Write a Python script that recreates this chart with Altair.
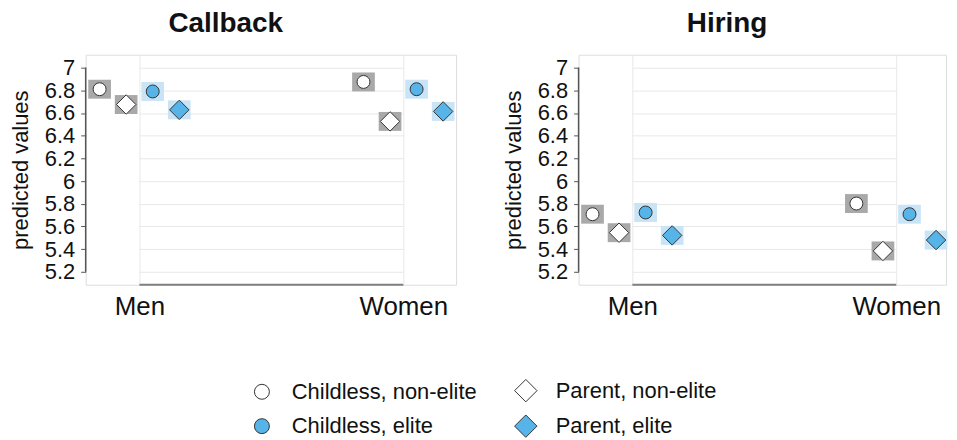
import altair as alt
import pandas as pd

# ---- data ----
panels = ["Callback", "Hiring"]
genders = ["Men", "Women"]
series = ["Childless, non-elite", "Parent, non-elite", "Childless, elite", "Parent, elite"]
legend_order = ["Childless, non-elite", "Childless, elite", "Parent, non-elite", "Parent, elite"]
elite_status = ["non-elite", "non-elite", "elite", "elite"]

callback_men = [6.81, 6.675, 6.79, 6.628]
callback_women = [6.874, 6.526, 6.81, 6.614]
hiring_men = [5.708, 5.545, 5.723, 5.521]
hiring_women = [5.802, 5.384, 5.708, 5.48]

y_ticks = [5.2, 5.4, 5.6, 5.8, 6, 6.2, 6.4, 6.6, 6.8, 7]

values = {
    "Callback": {"Men": callback_men, "Women": callback_women},
    "Hiring": {"Men": hiring_men, "Women": hiring_women},
}

# ---- styles ----
FONT = "Liberation Sans"
RECT = "M-1.2,-1L1.2,-1L1.2,1L-1.2,1Z"
DIAMOND = "M0,-1.5L1.5,0L0,1.5L-1.5,0Z"
BLUE = "#56b4e9"
H = 231
shape_of = {"Childless": "circle", "Parent": DIAMOND}
fill_of = {"non-elite": "white", "elite": BLUE}


def panel(name, width, title_dx):
    rows = []
    for g in genders:
        for s, e, v in zip(series, elite_status, values[name][g]):
            rows.append({"gender": g, "series": s, "elite": e, "value": v})
    df = pd.DataFrame(rows)

    x = alt.X(
        "gender:N",
        scale=alt.Scale(type="point", domain=genders, range=[54, 319], padding=0),
        axis=alt.Axis(title=None, labelAngle=0, labelAlign="center", labelFontSize=26,
                      labelPadding=9, ticks=False, domain=False, grid=True,
                      gridColor="#e8e8e8", labelColor="#111111", labelFont=FONT),
    )
    xo = alt.XOffset("series:N", scale=alt.Scale(type="point", domain=series,
                                                  range=[-40, 40], padding=0))
    y_scale = alt.Scale(domain=[5.086, 7.114], nice=False, zero=False)
    y_axis = alt.Axis(values=y_ticks, format="~g", title="predicted values",
                      titleFontSize=22, titleFontWeight="normal", titleColor="#111111",
                      titlePadding=12, labelFontSize=22, labelPadding=6, labelColor="#111111",
                      labelOverlap=False, tickSize=5, tickColor="#555555", domain=False,
                      grid=True, gridColor="#e8e8e8", labelFont=FONT, titleFont=FONT)
    y = alt.Y("value:Q", scale=y_scale, axis=y_axis)

    boxes = alt.Chart(df).mark_point(shape=RECT, size=361, filled=True, opacity=1,
                                     strokeWidth=0).encode(
        x=x, xOffset=xo, y=y,
        color=alt.Color("elite:N", scale=alt.Scale(domain=["non-elite", "elite"],
                                                   range=["#a9a9a9", "#c8e4f6"]),
                        legend=None),
    )

    legend = alt.Legend(title=None, orient="none", legendX=166, legendY=326, columns=2,
                        labelFontSize=22, labelFont=FONT, labelColor="#111111",
                        labelLimit=0, symbolSize=225, symbolStrokeWidth=1,
                        columnPadding=35, rowPadding=8, labelOffset=19)

    shape_range = [shape_of[s.split(",")[0]] for s in legend_order]
    fill_range = [fill_of[s.split(", ")[1]] for s in legend_order]

    markers = alt.Chart(df).mark_point(filled=True, size=169, opacity=1,
                                       strokeWidth=1).encode(
        x=x, xOffset=xo, y=y,
        shape=alt.Shape("series:N", scale=alt.Scale(domain=legend_order, range=shape_range),
                        legend=legend),
        fill=alt.Fill("series:N", scale=alt.Scale(domain=legend_order, range=fill_range),
                      legend=legend),
        stroke=alt.Stroke("series:N", scale=alt.Scale(domain=legend_order,
                                                      range=["#333333"] * 4),
                          legend=legend),
    )

    yline = alt.Chart(pd.DataFrame({"lo": [y_ticks[0]], "hi": [y_ticks[-1]]})).mark_rule(
        color="#555555", strokeWidth=1.5).encode(
        x=alt.value(0), y=alt.Y("lo:Q", scale=y_scale, axis=y_axis), y2="hi:Q")

    xline = alt.Chart(pd.DataFrame({"a": [genders[0]], "b": [genders[-1]]})).mark_rule(
        color="#808080", strokeWidth=2).encode(
        x=alt.X("a:N"), x2="b:N", y=alt.value(H))

    return alt.layer(boxes, markers, yline, xline).properties(
        width=width, height=H,
        title=alt.TitleParams(name, fontSize=28, fontWeight="bold", font=FONT,
                              anchor="middle", frame="bounds", offset=17, dx=title_dx,
                              color="#111111"),
    )


chart = alt.hconcat(panel("Callback", 372, -7), panel("Hiring", 369, 2),
                    spacing=44).properties(
    padding=0
).configure_view(stroke=None).configure(font=FONT)

chart.save("out.html", embed_options={"renderer": "svg", "actions": False})
